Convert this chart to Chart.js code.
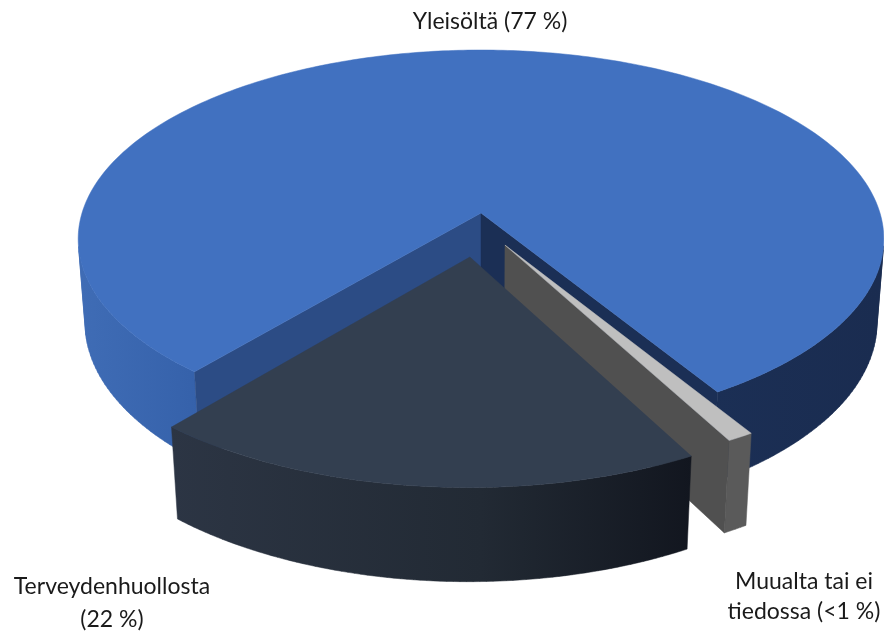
<!DOCTYPE html>
<html>
<head>
<meta charset="utf-8">
<style>
  html, body { margin: 0; padding: 0; background: #fff; }
  canvas { display: block; }
</style>
<script src="https://cdn.jsdelivr.net/npm/chart.js@4"></script>
</head>
<body>
<canvas id="chart" width="884" height="633"></canvas>
<script>
const categories = ['Yleisöltä', 'Muualta tai ei tiedossa', 'Terveydenhuollosta'];
const shares = [77, 1, 22];
const sliceLabels = [['Yleisöltä (77 %)'], ['Muualta tai ei', 'tiedossa (<1 %)'], ['Terveydenhuollosta', '(22 %)']];
const topColors = ['#4171c0', '#bfbfbf', '#333f50'];

// camera fitted to the reference: disc coords + z=1 for the bottom face
const view = { cx: 481, cy: 213, b: 399, a: 185.4, w: 0.1376, q: 0.017, c: 84.5, squash: 0.815 };
const explode = [[0, 0], [0.0587, 0.169], [-0.027, 0.23]];
const wallStops = [
  [[-1, '#3f6cb5'], [-0.7, '#3561aa'], [0.58, '#1b2f55'], [1, '#1a2c50']],
  [[0.5, '#5a5a5a'], [0.7, '#5a5a5a']],
  [[-0.78, '#2c3544'], [0, '#222a34'], [0.53, '#12161f']],
];
const faceColors = [['#2c4c85', '#1b2f55'], ['#505050', '#505050'], ['#222a34', '#222a34']];
const labelPos = [[490, 22, 0], [804, 582, 30], [112, 587, 33]];

function project(u, v, z) {
  const d = 1 - view.w * v + view.q * z;
  return [view.cx + view.b * u / d, view.cy + (view.a * v + view.c * z) / d];
}

// library angle -> point on the unit disc, foreshortened along the view axis
function rim(angle) {
  const u = view.squash * Math.cos(angle);
  const v = Math.sin(angle);
  const r = Math.hypot(u, v);
  return [u / r, v / r];
}

function signedArea(points) {
  let sum = 0;
  points.forEach((p, i) => {
    const q = points[(i + 1) % points.length];
    sum += p[0] * q[1] - q[0] * p[1];
  });
  return sum;
}

function tracePoly(ctx, points) {
  points.forEach((p, i) => (i ? ctx.lineTo(p[0], p[1]) : ctx.moveTo(p[0], p[1])));
  ctx.closePath();
}

function paint(ctx, color) {
  ctx.fillStyle = color;
  ctx.strokeStyle = color;
  ctx.lineWidth = 0.5;
  ctx.fill();
  ctx.stroke();
}

function fillPoly(ctx, points, color) {
  ctx.beginPath();
  tracePoly(ctx, points);
  paint(ctx, color);
}

function wallGradient(ctx, stops) {
  const x0 = view.cx + view.b * stops[0][0];
  const x1 = view.cx + view.b * stops[stops.length - 1][0];
  const grad = ctx.createLinearGradient(x0, 0, x1, 0);
  stops.forEach((s) => grad.addColorStop((s[0] - stops[0][0]) / (stops[stops.length - 1][0] - stops[0][0]), s[1]));
  return grad;
}

const pie3d = {
  id: 'pie3d',
  beforeDatasetsDraw(chart) {
    const ctx = chart.ctx;
    const arcs = chart.getDatasetMeta(0).data;
    const step = Math.PI / 180;

    arcs.forEach((arc, i) => {
      const [ox, oy] = explode[i];
      const at = (p, z) => project(p[0] + ox, p[1] + oy, z);
      const centre = [0, 0];
      const n = Math.max(1, Math.ceil((arc.endAngle - arc.startAngle) / step));
      const pts = [];
      for (let k = 0; k <= n; k++) pts.push(rim(arc.startAngle + (arc.endAngle - arc.startAngle) * k / n));

      // outer wall: the facets turned towards the camera, as one path
      ctx.beginPath();
      for (let k = 0; k < n; k++) {
        const quad = [at(pts[k], 0), at(pts[k + 1], 0), at(pts[k + 1], 1), at(pts[k], 1)];
        if (signedArea(quad) < 0) tracePoly(ctx, quad);
      }
      paint(ctx, wallGradient(ctx, wallStops[i]));

      // cut faces, only those turned towards the camera
      const startFace = [at(centre, 0), at(pts[0], 0), at(pts[0], 1), at(centre, 1)];
      const endFace = [at(centre, 0), at(pts[n], 0), at(pts[n], 1), at(centre, 1)];
      if (signedArea(startFace) < 0) fillPoly(ctx, startFace, faceColors[i][0]);
      if (signedArea(endFace) > 0) fillPoly(ctx, endFace, faceColors[i][1]);

      // top
      fillPoly(ctx, [at(centre, 0)].concat(pts.map((p) => at(p, 0))), arc.options.backgroundColor);
    });

    ctx.fillStyle = '#1a1a1a';
    ctx.font = '23px Lato';
    ctx.textAlign = 'center';
    ctx.textBaseline = 'middle';
    sliceLabels.forEach((lines, i) => {
      lines.forEach((line, k) => ctx.fillText(line, labelPos[i][0], labelPos[i][1] + k * labelPos[i][2]));
    });
    return false;
  },
};

new Chart(document.getElementById('chart'), {
  type: 'pie',
  data: {
    labels: categories,
    datasets: [{ data: shares, backgroundColor: topColors, borderWidth: 0 }],
  },
  options: {
    responsive: false,
    animation: false,
    rotation: 225.8,
    plugins: {
      legend: { display: false },
      tooltip: { enabled: false },
    },
  },
  plugins: [pie3d],
});
</script>
</body>
</html>
